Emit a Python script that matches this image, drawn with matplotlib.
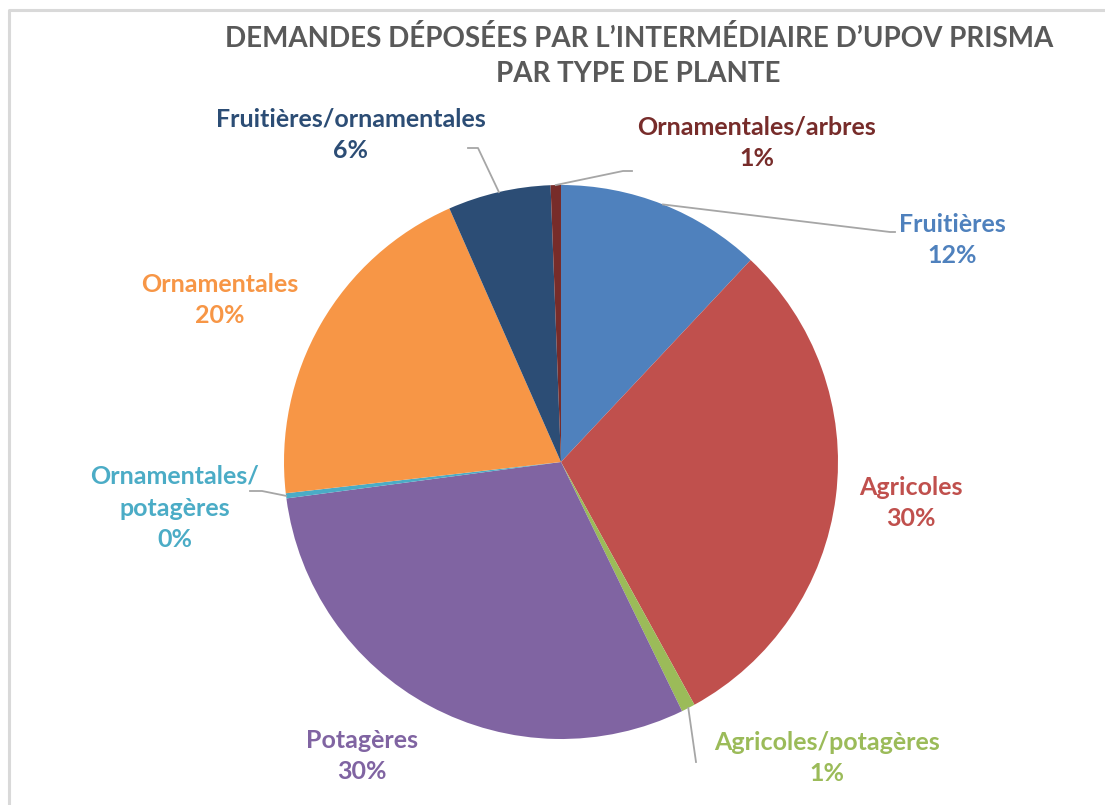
import numpy as np
import matplotlib.pyplot as plt

# slices clockwise from 12 o'clock
categories = ['Fruitières', 'Agricoles', 'Agricoles/potagères', 'Potagères',
              'Ornamentales/\npotagères', 'Ornamentales',
              'Fruitières/ornamentales', 'Ornamentales/arbres']
shares = [12.0, 30.0, 0.8, 30.1, 0.3, 20.2, 6.0, 0.6]
colors = ['#4F81BD', '#C0504D', '#9BBB59', '#8064A2',
          '#4BACC6', '#F79646', '#2C4D75', '#772C2A']

W, H = 1105, 805
fig = plt.figure(figsize=(W / 100, H / 100), dpi=100)
ax = fig.add_axes([0, 0, 1, 1])

cx, cy, r = 561, H - 462, 277
wedges, _ = ax.pie(shares, colors=colors, startangle=90, counterclock=False,
                   center=(cx, cy), radius=r, frame=True,
                   wedgeprops=dict(linewidth=0))
ax.set_xlim(0, W)
ax.set_ylim(0, H)
ax.set_aspect('equal')
ax.axis('off')

# label centres (pixels from top-left) and optional leader elbow / end
label_pos = {
    'Fruitières': (952, 240, [(890, 232), (895, 232)]),
    'Agricoles': (911, 503, None),
    'Agricoles/potagères': (827, 758, [(696, 762)]),
    'Potagères': (362, 756, None),
    'Ornamentales/\npotagères': (175, 508, [(262, 491), (250, 491)]),
    'Ornamentales': (220, 300, None),
    'Fruitières/ornamentales': (351, 135, [(478, 148), (468, 148)]),
    'Ornamentales/arbres': (757, 143, [(623, 171), (632, 171)]),
}

font = ['Lato', 'DejaVu Sans']
for w, cat, val, col in zip(wedges, categories, shares, colors):
    lx, ly, leader = label_pos[cat]
    ax.text(lx, H - ly, '%s\n%d%%' % (cat, round(val)), color=col,
            ha='center', va='center', fontsize=18, fontweight='bold',
            family=font, linespacing=1.45)
    if leader:
        mid = np.deg2rad((w.theta1 + w.theta2) / 2)
        xs = [cx + r * np.cos(mid)] + [p[0] for p in leader]
        ys = [cy + r * np.sin(mid)] + [H - p[1] for p in leader]
        ax.plot(xs, ys, color='#A6A6A6', lw=1.3)

fig.text(0.578, 1 - 56 / H, 'DEMANDES DÉPOSÉES PAR L’INTERMÉDIAIRE D’UPOV PRISMA\nPAR TYPE DE PLANTE',
         ha='center', va='center', fontsize=20, fontweight='bold',
         color='#595959', family=font, linespacing=1.45)

# chart area border (only top/left visible in the crop)
ax.plot([9, 9, W + 5], [-5, H - 10, H - 10], color='#D9D9D9', lw=2.2,
        clip_on=False)

fig.savefig('out.png', dpi=100, facecolor='white')
